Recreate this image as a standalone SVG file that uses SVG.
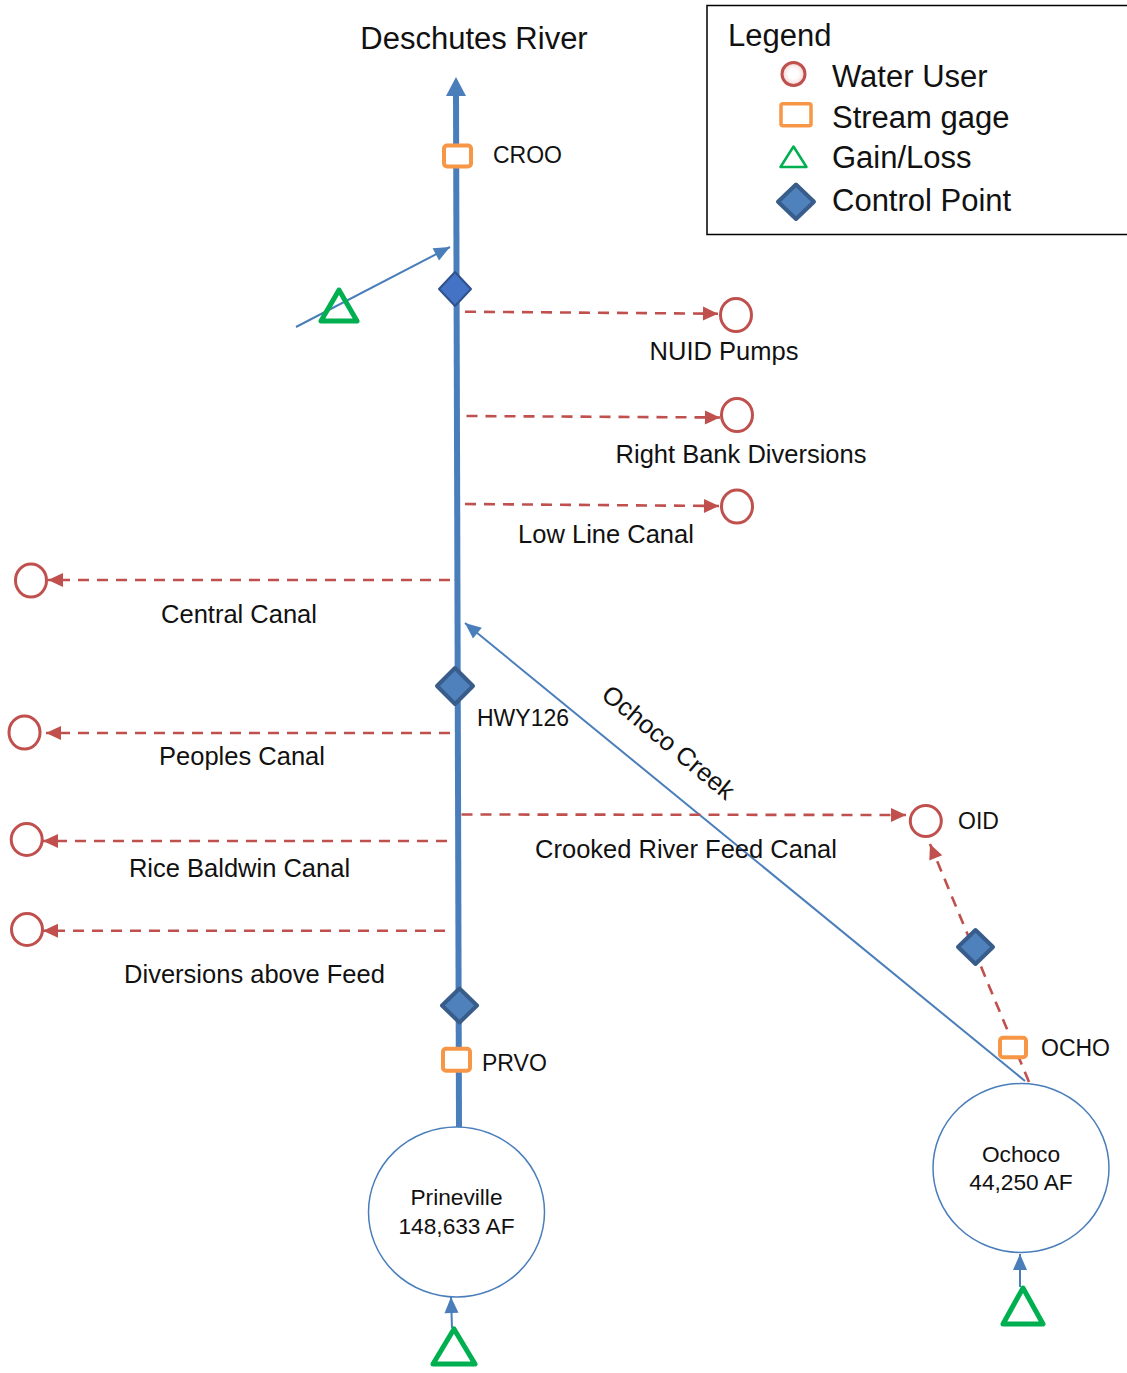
<svg xmlns="http://www.w3.org/2000/svg" width="1127" height="1373" viewBox="0 0 1127 1373">
<style>
text{font-family:"Liberation Sans",Arial,sans-serif;fill:#111}
.lbl{font-size:25.5px}
.sm{font-size:23px}
.big{font-size:31px}
.res{font-size:22.7px;text-anchor:middle}
.user{fill:#fff;stroke:#C0504D;stroke-width:3}
.gage{fill:#fff;stroke:#F79646;stroke-width:4}
.gain{fill:none;stroke:#00B050;stroke-width:5;stroke-linejoin:round}
.cp{fill:#4F81BD;stroke:#385D8A;stroke-width:4;stroke-linejoin:round}
.div{fill:none;stroke:#C0504D;stroke-width:2.6;stroke-dasharray:11 8;marker-end:url(#ra)}
.flow{fill:none;stroke:#4A7EBB;stroke-width:2;marker-end:url(#ba)}
.resv{fill:#fff;stroke:#4A7EBB;stroke-width:1.5}
</style>
<defs>
<marker id="ra" markerUnits="userSpaceOnUse" markerWidth="16" markerHeight="14" refX="15" refY="7" orient="auto" overflow="visible">
<path d="M0,0 L15,7 L0,14 z" fill="#C0504D"/>
</marker>
<marker id="ba" markerUnits="userSpaceOnUse" markerWidth="17" markerHeight="14" refX="16" refY="7" orient="auto" overflow="visible">
<path d="M0,0 L16,7 L0,14 z" fill="#4A7EBB"/>
</marker>
<radialGradient id="ug" cx="0.5" cy="0.5" r="0.5">
<stop offset="0.4" stop-color="#ffffff"/>
<stop offset="1" stop-color="#f2d4d3"/>
</radialGradient>
</defs>

<g id="connectors">
<line x1="456" y1="94" x2="459" y2="1127" stroke="#4A7EBB" stroke-width="6"/>
<polygon points="456,77 466,96 446,96" fill="#4A7EBB"/>
<line class="flow" x1="296" y1="327" x2="450" y2="247"/>
<line class="flow" x1="1025" y1="1081" x2="465" y2="623"/>
<line class="flow" x1="452" y1="1328" x2="451" y2="1297"/>
<line class="flow" x1="1020" y1="1287" x2="1020" y2="1254"/>
<line class="div" x1="465" y1="311.7" x2="718" y2="313.7"/>
<line class="div" x1="466.5" y1="416" x2="720" y2="417.5"/>
<line class="div" x1="465" y1="504" x2="719" y2="506"/>
<line class="div" x1="450" y1="580" x2="48" y2="580"/>
<line class="div" x1="450" y1="733" x2="46" y2="733"/>
<line class="div" x1="447" y1="841" x2="43" y2="841"/>
<line class="div" x1="445" y1="930.7" x2="43" y2="930.7"/>
<line class="div" x1="461.5" y1="814.5" x2="906" y2="815"/>
<line class="div" x1="1029" y1="1082" x2="930" y2="844"/>
<text class="lbl" transform="translate(663,749) rotate(39.5)" text-anchor="middle">Ochoco Creek</text>
</g>

<g id="title"><text class="big" x="474" y="49" text-anchor="middle">Deschutes River</text></g>

<g id="croo"><rect class="gage" x="444" y="145.5" width="27" height="21" rx="3"/><text class="sm" x="493" y="163">CROO</text></g>
<g id="gain-top"><path class="gain" d="M339,290 L357,321 L321,321 z"/></g>
<g id="cp-top"><path d="M455,272 L471,289 L455,306 L439,289 z" fill="#4472C4" stroke="#2F528F" stroke-width="2" stroke-linejoin="round"/></g>

<g id="nuid"><ellipse class="user" cx="736" cy="315" rx="15.5" ry="16.5"/><text class="lbl" x="724" y="360" text-anchor="middle">NUID Pumps</text></g>
<g id="rightbank"><ellipse class="user" cx="737" cy="415" rx="15.5" ry="16.5"/><text class="lbl" x="741" y="463" text-anchor="middle">Right Bank Diversions</text></g>
<g id="lowline"><ellipse class="user" cx="737" cy="506.5" rx="15.5" ry="16.5"/><text class="lbl" x="606" y="543" text-anchor="middle">Low Line Canal</text></g>
<g id="central"><ellipse class="user" cx="31" cy="580.5" rx="15.5" ry="16.5"/><text class="lbl" x="239" y="622.5" text-anchor="middle">Central Canal</text></g>
<g id="hwy126"><path class="cp" d="M455,668 L473,686 L455,704 L437,686 z"/><text class="sm" x="477" y="726">HWY126</text></g>
<g id="peoples"><ellipse class="user" cx="24.5" cy="732.5" rx="15.5" ry="16.5"/><text class="lbl" x="242" y="765" text-anchor="middle">Peoples Canal</text></g>
<g id="ricebaldwin"><ellipse class="user" cx="26.7" cy="839.5" rx="15.5" ry="16"/><text class="lbl" x="239.5" y="877" text-anchor="middle">Rice Baldwin Canal</text></g>
<g id="divabove"><ellipse class="user" cx="27" cy="929.5" rx="15.5" ry="16"/><text class="lbl" x="254.5" y="983" text-anchor="middle">Diversions above Feed</text></g>
<g id="feed"><text class="lbl" x="686" y="858" text-anchor="middle">Crooked River Feed Canal</text></g>
<g id="oid"><ellipse class="user" cx="925.8" cy="821" rx="15.5" ry="15.5"/><text class="sm" x="958" y="829">OID</text></g>
<g id="cp-oid"><path class="cp" d="M975.5,930 L993,947 L975.5,964 L958,947 z"/></g>
<g id="ocho"><rect class="gage" x="1000" y="1037.7" width="26" height="19.5" rx="3"/><text class="sm" x="1041" y="1056">OCHO</text></g>
<g id="cp-prvo"><path class="cp" d="M459.5,988.5 L477,1005.5 L459.5,1022.5 L442,1005.5 z"/></g>
<g id="prvo"><rect class="gage" x="443" y="1048.7" width="27" height="22" rx="3"/><text class="sm" x="482" y="1071">PRVO</text></g>

<g id="prineville"><ellipse class="resv" cx="456.5" cy="1212" rx="88" ry="85"/><text class="res" x="456.5" y="1205">Prineville</text><text class="res" x="456.5" y="1234">148,633 AF</text></g>
<g id="gain-prineville"><path class="gain" d="M454,1329 L475,1364 L433,1364 z"/></g>
<g id="ochoco"><ellipse class="resv" cx="1021" cy="1168" rx="88" ry="84.5"/><text class="res" x="1021" y="1162">Ochoco</text><text class="res" x="1021" y="1190">44,250 AF</text></g>
<g id="gain-ochoco"><path class="gain" d="M1023,1288 L1043,1324 L1003,1324 z"/></g>

<g id="legend">
<rect x="707" y="5.5" width="440" height="229" fill="#fff" stroke="#000" stroke-width="1.5"/>
<text class="big" x="728" y="46">Legend</text>
<ellipse cx="793.5" cy="74" rx="11.5" ry="11.5" fill="url(#ug)" stroke="#C0504D" stroke-width="3"/>
<text class="big" x="832" y="87">Water User</text>
<rect x="781" y="103.7" width="30" height="22" rx="2" fill="#fff" stroke="#F79646" stroke-width="3.5"/>
<text class="big" x="832" y="127.5">Stream gage</text>
<path d="M793.5,146.5 L806.5,167 L780.5,167 z" fill="#fff" stroke="#00B050" stroke-width="2.5" stroke-linejoin="round"/>
<text class="big" x="832" y="168">Gain/Loss</text>
<path class="cp" d="M796,184.5 L814,201.7 L796,219 L778,201.7 z"/>
<text class="big" x="832" y="210.5">Control Point</text>
</g>
</svg>
